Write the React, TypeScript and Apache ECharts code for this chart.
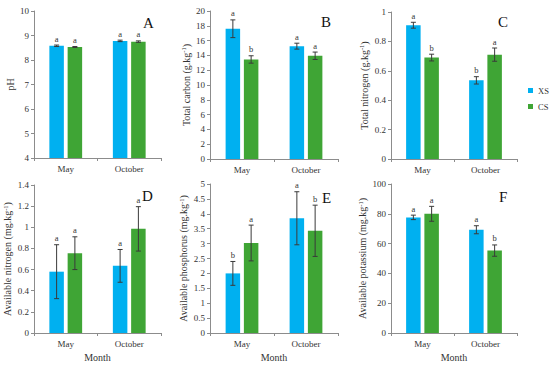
import React, { useEffect, useRef } from "react";
import * as echarts from "echarts";

const months = ["May", "October"];
const seriesNames = ["XS", "CS"];

// A: pH
const phXS = [8.58, 8.78];
const phXSErr = [0.03, 0.03];
const phCS = [8.53, 8.75];
const phCSErr = [0.02, 0.03];
const phXSLet = ["a", "a"];
const phCSLet = ["a", "a"];

// B: Total carbon
const tcXS = [17.6, 15.25];
const tcXSErr = [1.2, 0.4];
const tcCS = [13.45, 13.95];
const tcCSErr = [0.5, 0.5];
const tcXSLet = ["a", "a"];
const tcCSLet = ["b", "a"];

// C: Total nitrogen
const tnXS = [0.91, 0.535];
const tnXSErr = [0.02, 0.025];
const tnCS = [0.69, 0.71];
const tnCSErr = [0.023, 0.045];
const tnXSLet = ["a", "b"];
const tnCSLet = ["b", "a"];

// D: Available nitrogen
const anXS = [0.58, 0.635];
const anXSErr = [0.255, 0.155];
const anCS = [0.755, 0.985];
const anCSErr = [0.155, 0.21];
const anXSLet = ["a", "a"];
const anCSLet = ["a", "a"];

// E: Available phosphorus
const apXS = [2.0, 3.85];
const apXSErr = [0.4, 0.89];
const apCS = [3.02, 3.43];
const apCSErr = [0.6, 0.86];
const apXSLet = ["b", "a"];
const apCSLet = ["a", "b"];

// F: Available potassium
const akXS = [77.6, 69.3];
const akXSErr = [1.5, 2.7];
const akCS = [80, 55.3];
const akCSErr = [5, 3.8];
const akXSLet = ["a", "a"];
const akCSLet = ["a", "b"];

const panelLetters = ["A", "B", "C", "D", "E", "F"];
const yMins = [4, 0, 0, 0, 0, 0];
const yMaxs = [10, 20, 1, 1.4, 5, 100];
const yIntervals = [1, 2, 0.2, 0.2, 0.5, 20];
const yNames = [
  "pH",
  "Total carbon (g.kg{s|-1})",
  "Total nitrogen (g.kg{s|-1})",
  "Available nitrogen (mg.kg{s|-1})",
  "Available phosphorus (mg.kg{s|-1})",
  "Available potassium (mg.kg{s|-1})",
];

const FONT = "'Liberation Serif', 'Times New Roman', serif";
const BLUE = "#00B0F0";
const GREEN = "#3FA535";
const TEXT = "#333333";
const AXIS = "#8c8c8c";
const BAR_W = 14.5;
const BAR_GAP = 0.26;
const OFF = (BAR_W * (1 + BAR_GAP)) / 2;

const grids = [
  { left: 34, top: 11, width: 127, height: 147 },
  { left: 210, top: 11, width: 128, height: 148 },
  { left: 391, top: 12, width: 126, height: 147 },
  { left: 34, top: 185, width: 127, height: 148 },
  { left: 210, top: 184, width: 128, height: 149 },
  { left: 391, top: 184, width: 126, height: 149 },
];
const nameGaps = [17, 17, 21, 19, 18, 18];
const letterPos = [
  { left: 143, top: 15 },
  { left: 321, top: 14 },
  { left: 498, top: 14 },
  { left: 142, top: 188 },
  { left: 322, top: 190 },
  { left: 499, top: 189 },
];

const panels = [
  [phXS, phXSErr, phXSLet, phCS, phCSErr, phCSLet],
  [tcXS, tcXSErr, tcXSLet, tcCS, tcCSErr, tcCSLet],
  [tnXS, tnXSErr, tnXSLet, tnCS, tnCSErr, tnCSLet],
  [anXS, anXSErr, anXSLet, anCS, anCSErr, anCSLet],
  [apXS, apXSErr, apXSLet, apCS, apCSErr, apCSLet],
  [akXS, akXSErr, akXSLet, akCS, akCSErr, akCSLet],
];

function buildOption() {
  const xAxis: any[] = [];
  const yAxis: any[] = [];
  const series: any[] = [];
  const title: any[] = [];

  panels.forEach((p, gi) => {
    const [xsM, xsE, xsL, csM, csE, csL] = p as any[];
    xAxis.push({
      type: "category",
      gridIndex: gi,
      data: months,
      axisLine: { lineStyle: { color: AXIS, width: 1 } },
      axisTick: { show: true, length: 3, lineStyle: { color: AXIS } },
      axisLabel: { fontFamily: FONT, fontSize: 9, color: TEXT, margin: 6 },
      name: gi >= 3 ? "Month" : "",
      nameLocation: "middle",
      nameGap: 19,
      nameTextStyle: { fontFamily: FONT, fontSize: 10, color: TEXT },
    });
    yAxis.push({
      type: "value",
      gridIndex: gi,
      min: yMins[gi],
      max: yMaxs[gi],
      interval: yIntervals[gi],
      splitLine: { show: false },
      axisLine: { show: true, lineStyle: { color: AXIS, width: 1 } },
      axisTick: { show: true, length: 3, lineStyle: { color: AXIS } },
      axisLabel: { fontFamily: FONT, fontSize: 9, color: TEXT, margin: 5 },
      name: yNames[gi],
      nameLocation: "middle",
      nameGap: nameGaps[gi],
      nameRotate: 90,
      nameTextStyle: {
        fontFamily: FONT,
        fontSize: 10,
        color: TEXT,
        lineHeight: 12,
        rich: {
          s: { fontFamily: FONT, fontSize: 6.5, color: TEXT, verticalAlign: "top", lineHeight: 12 },
        },
      },
    });
    series.push({
      name: seriesNames[0],
      type: "bar",
      xAxisIndex: gi,
      yAxisIndex: gi,
      data: xsM,
      barWidth: BAR_W,
      barGap: BAR_GAP * 100 + "%",
      itemStyle: { color: BLUE },
      silent: true,
    });
    series.push({
      name: seriesNames[1],
      type: "bar",
      xAxisIndex: gi,
      yAxisIndex: gi,
      data: csM,
      barWidth: BAR_W,
      barGap: BAR_GAP * 100 + "%",
      itemStyle: { color: GREEN },
      silent: true,
    });
    const data: number[][] = [];
    const letters: string[] = [];
    months.forEach((_, i) => {
      data.push([i, xsM[i], xsE[i], 0]);
      letters.push(xsL[i]);
      data.push([i, csM[i], csE[i], 1]);
      letters.push(csL[i]);
    });
    series.push({
      type: "custom",
      xAxisIndex: gi,
      yAxisIndex: gi,
      data,
      clip: false,
      silent: true,
      z: 5,
      itemStyle: { color: "#333333" },
      encode: { x: 0, y: 1 },
      renderItem: (params: any, api: any) => {
        const c = api.value(0);
        const m = api.value(1);
        const e = api.value(2);
        const s = api.value(3);
        const base = api.coord([c, m]);
        const top = api.coord([c, m + e]);
        const bot = api.coord([c, m - e]);
        const x = base[0] + (s === 0 ? -OFF : OFF);
        const ls = { stroke: "#3a3a3a", lineWidth: 1 };
        return {
          type: "group",
          children: [
            { type: "line", shape: { x1: x, y1: top[1], x2: x, y2: bot[1] }, style: ls },
            { type: "line", shape: { x1: x - 2.5, y1: top[1], x2: x + 2.5, y2: top[1] }, style: ls },
            { type: "line", shape: { x1: x - 2.5, y1: bot[1], x2: x + 2.5, y2: bot[1] }, style: ls },
            {
              type: "text",
              x: x,
              y: top[1] - 2,
              style: {
                text: letters[params.dataIndex],
                fontFamily: FONT,
                fontSize: 8.5,
                fill: "#333333",
                align: "center",
                verticalAlign: "bottom",
              },
            },
          ],
        };
      },
    });
    title.push({
      text: panelLetters[gi],
      left: letterPos[gi].left,
      top: letterPos[gi].top,
      padding: 0,
      textStyle: { fontFamily: FONT, fontSize: 15, fontWeight: "normal", color: "#111" },
    });
  });

  return {
    animation: false,
    backgroundColor: "#ffffff",
    title,
    grid: grids.map((g) => ({ ...g, containLabel: false })),
    xAxis,
    yAxis,
    series,
    legend: {
      data: seriesNames,
      orient: "vertical",
      left: 528,
      top: 86,
      padding: 0,
      itemWidth: 5,
      itemHeight: 5,
      itemGap: 7,
      icon: "rect",
      selectedMode: false,
      textStyle: { fontFamily: FONT, fontSize: 8.5, color: TEXT },
    },
  };
}

export default function App() {
  const ref = useRef<HTMLDivElement>(null);
  useEffect(() => {
    document.body.style.margin = "0";
    if (!ref.current) return;
    const chart = echarts.init(ref.current, undefined, { renderer: "svg" });
    chart.setOption(buildOption() as any);
    return () => chart.dispose();
  }, []);
  return (
    <div
      ref={ref}
      style={{ width: 550, height: 367, position: "absolute", left: 0, top: 0, background: "#fff" }}
    />
  );
}
